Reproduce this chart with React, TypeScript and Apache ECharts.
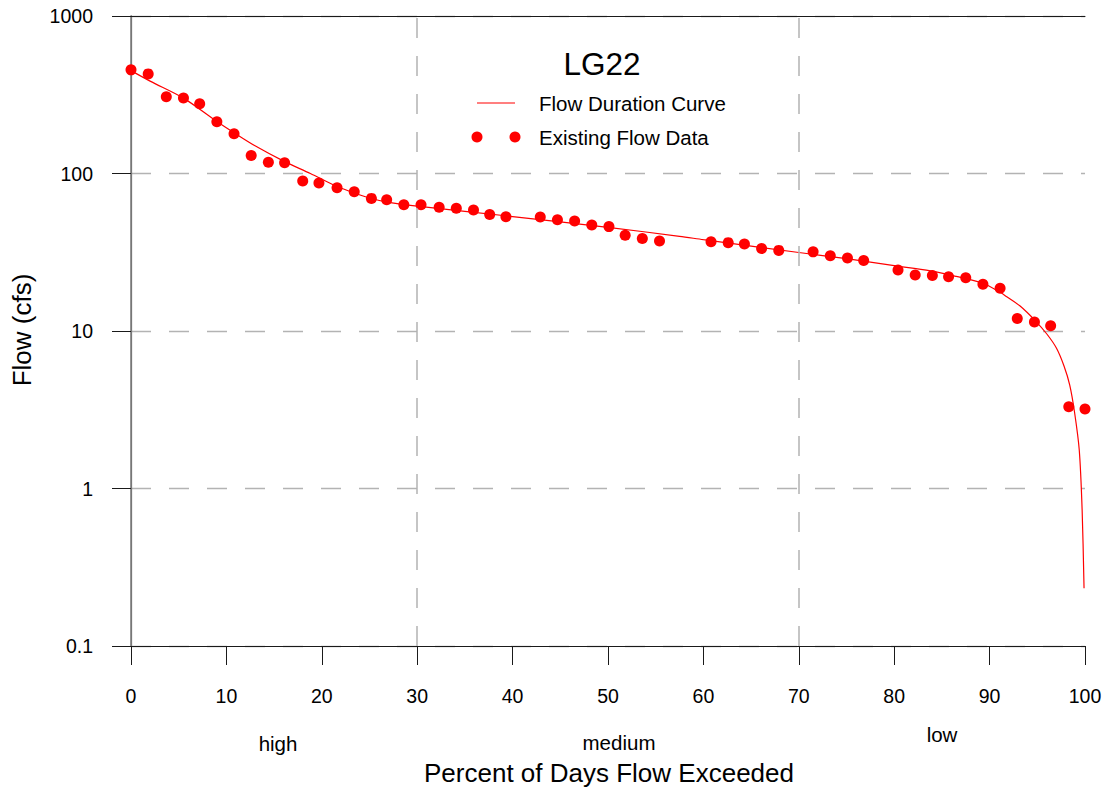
import React, { useEffect, useRef } from "react";
import * as echarts from "echarts";

// Existing flow data (percent of days exceeded, flow in cfs)
const pointPct = [
  0, 1.8, 3.7, 5.5, 7.2, 9.0, 10.8, 12.6, 14.4, 16.1, 18.0, 19.7, 21.6, 23.4, 25.2, 26.8,
  28.6, 30.4, 32.3, 34.1, 35.9, 37.6, 39.3, 42.9, 44.7, 46.5, 48.3, 50.1, 51.8, 53.6, 55.4,
  60.8, 62.6, 64.3, 66.1, 67.9, 71.5, 73.3, 75.1, 76.8, 80.4, 82.2, 84.0, 85.7, 87.5, 89.3,
  91.1, 92.9, 94.7, 96.4, 98.3, 100,
];
const pointFlow = [
  455, 429, 307, 302, 277, 213, 179, 130, 118, 117, 89.5, 87, 81.3, 76.6, 69.5, 68.2,
  63.4, 63.4, 61, 60.1, 58.7, 55, 53.2, 53, 50.9, 50, 47.1, 46, 40.5, 38.7, 37.3,
  36.9, 36.4, 35.7, 33.4, 32.5, 31.8, 30, 29.1, 28, 24.4, 22.7, 22.5, 22.1, 21.8, 19.8,
  18.7, 12.0, 11.4, 10.8, 3.3, 3.2,
];

// Flow duration curve
const curvePct = [
  0, 2, 5.5, 9.0, 10.9, 13, 16.1, 18.8, 21.6, 23.4, 25.2, 27, 30, 40, 50, 57.5, 60, 70, 75, 80,
  83.8, 86.5, 89.3, 91.1, 91.8, 93.2, 94.8, 96.0, 97.0, 97.8, 98.4, 98.9, 99.4, 99.7, 99.9,
];
const curveFlow = [
  450, 386, 301, 214, 180, 150, 119, 100, 82.6, 75.2, 69.4, 65.5, 62, 53.3, 45.5, 39.9, 38, 31.5, 28.8, 26,
  24.1, 22.2, 20.1, 17.6, 16.5, 14.4, 11.6, 9.57, 7.8, 6.0, 4.54, 3.06, 1.75, 0.73, 0.233,
];

const yTickValues = [0.1, 1, 10, 100, 1000];
const yTickLabels = ["0.1", "1", "10", "100", "1000"];
const regimeBounds = [30, 70];
const regimeLabels = ["high", "medium", "low"];
const titleText = "LG22";
const seriesNames = ["Flow Duration Curve", "Existing Flow Data"];
const xAxisTitle = "Percent of Days Flow Exceeded";
const yAxisTitle = "Flow (cfs)";

const FONT = "'Liberation Sans', Arial, Helvetica, sans-serif";

export default function App() {
  const ref = useRef<HTMLDivElement>(null);

  useEffect(() => {
    document.body.style.margin = "0";
    const chart = echarts.init(ref.current!, null, { renderer: "svg" });

    const txt = (text: string, x: number, y: number, size: number, align = "center", extra: any = {}) => ({
      type: "text",
      x,
      y,
      silent: true,
      ...extra,
      style: {
        text,
        fontSize: size,
        fontFamily: FONT,
        fill: "#000",
        align,
        verticalAlign: "middle",
      },
    });

    const regimePos = [
      [278, 743],
      [619, 742],
      [942, 734],
    ];

    chart.setOption({
      animation: false,
      backgroundColor: "#fff",
      textStyle: { fontFamily: FONT },
      grid: { left: 131, top: 16, width: 954, height: 630, containLabel: false },
      xAxis: [
        {
          type: "value",
          min: 0,
          max: 100,
          interval: 10,
          position: "bottom",
          axisLine: { show: true, lineStyle: { color: "#1a1a1a", width: 1 } },
          axisTick: { show: true, length: 19, lineStyle: { color: "#1a1a1a" } },
          axisLabel: { margin: 40, fontSize: 19.5, color: "#000", fontFamily: FONT },
          splitLine: { show: false },
        },
        {
          type: "value",
          min: 0,
          max: 100,
          position: "top",
          axisLine: { show: true, lineStyle: { color: "#1a1a1a", width: 1 } },
          axisTick: { show: false },
          axisLabel: { show: false },
          splitLine: { show: false },
        },
      ],
      yAxis: [
        {
          type: "log",
          logBase: 10,
          min: 0.1,
          max: 1000,
          axisLine: { show: true, lineStyle: { color: "#555", width: 1.2 } },
          axisTick: { show: true, length: 19, lineStyle: { color: "#1a1a1a" } },
          axisLabel: {
            margin: 38,
            fontSize: 19.5,
            color: "#000",
            fontFamily: FONT,
            formatter: (v: number) => {
              let best = 0;
              yTickValues.forEach((t, i) => {
                if (Math.abs(Math.log10(t) - Math.log10(v)) < Math.abs(Math.log10(yTickValues[best]) - Math.log10(v))) best = i;
              });
              return yTickLabels[best];
            },
          },
          splitLine: { show: true, lineStyle: { color: "#b3b3b3", type: [20, 18], width: 1.3 } },
          minorTick: { show: false },
        },
        {
          type: "log",
          logBase: 10,
          min: 0.1,
          max: 1000,
          position: "right",
          axisLine: { show: true, lineStyle: { color: "#808080", width: 1.6 } },
          axisTick: { show: false },
          axisLabel: { show: false },
          splitLine: { show: false },
        },
      ],
      series: [
        {
          name: seriesNames[0],
          type: "line",
          data: curvePct.map((x, i) => [x, curveFlow[i]]),
          showSymbol: false,
          symbol: "none",
          smooth: 0.3,
          lineStyle: { color: "#ff0000", width: 1.2 },
          z: 3,
          markLine: {
            silent: true,
            symbol: "none",
            label: { show: false },
            lineStyle: { color: "#b3b3b3", type: [20, 18], width: 1.5 },
            data: regimeBounds.map((b) => ({ xAxis: b })),
          },
        },
        {
          name: seriesNames[1],
          type: "scatter",
          data: pointPct.map((x, i) => [x, pointFlow[i]]),
          symbolSize: 11,
          itemStyle: { color: "#ff0000", opacity: 1 },
          z: 4,
        },
      ],
      graphic: [
        txt(titleText, 602, 64, 31.5),
        {
          type: "line",
          silent: true,
          shape: { x1: 477, y1: 103, x2: 515, y2: 103 },
          style: { stroke: "#ff0000", lineWidth: 1.2 },
        },
        txt(seriesNames[0], 539, 103, 20.5, "left"),
        { type: "circle", silent: true, shape: { cx: 477, cy: 137, r: 5.5 }, style: { fill: "#ff0000" } },
        { type: "circle", silent: true, shape: { cx: 515, cy: 137, r: 5.5 }, style: { fill: "#ff0000" } },
        txt(seriesNames[1], 539, 137, 20.5, "left"),
        ...regimeLabels.map((r, i) => txt(r, regimePos[i][0], regimePos[i][1], 20.5)),
        txt(xAxisTitle, 609, 773, 26),
        txt(yAxisTitle, 22, 330, 26, "center", { rotation: Math.PI / 2 }),
      ],
    });

    return () => chart.dispose();
  }, []);

  return <div ref={ref} style={{ width: 1106, height: 792 }} />;
}
